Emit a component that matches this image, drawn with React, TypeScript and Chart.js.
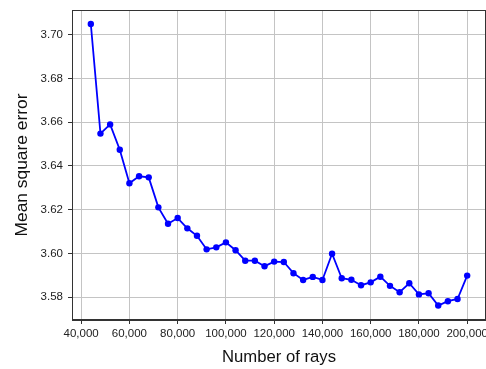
import React, { useEffect, useRef } from "react";
import { Chart, registerables } from "chart.js";

Chart.register(...registerables);

const rays = [
  44000, 48000, 52000, 56000, 60000, 64000, 68000, 72000, 76000, 80000,
  84000, 88000, 92000, 96000, 100000, 104000, 108000, 112000, 116000, 120000,
  124000, 128000, 132000, 136000, 140000, 144000, 148000, 152000, 156000, 160000,
  164000, 168000, 172000, 176000, 180000, 184000, 188000, 192000, 196000, 200000,
];
const mse = [
  3.7049, 3.6548, 3.659, 3.6474, 3.6321, 3.6353, 3.6348, 3.6211, 3.6136, 3.6162,
  3.6115, 3.6081, 3.6019, 3.6028, 3.6051, 3.6015, 3.5967, 3.5967, 3.5942, 3.5963,
  3.5961, 3.591, 3.5879, 3.5893, 3.5879, 3.5999, 3.5887, 3.588, 3.5855, 3.5868,
  3.5894, 3.5852, 3.5823, 3.5864, 3.5813, 3.5818, 3.5762, 3.5782, 3.5792, 3.5899,
];
const xTicks = [40000, 60000, 80000, 100000, 120000, 140000, 160000, 180000, 200000];
const yTicks = [3.58, 3.6, 3.62, 3.64, 3.66, 3.68, 3.7];

const frame = {
  id: "frame",
  afterDraw(chart: any) {
    const { ctx, chartArea: a } = chart;
    ctx.save();
    ctx.strokeStyle = "#333";
    ctx.lineWidth = 1;
    ctx.strokeRect(a.left + 0.5, a.top + 0.5, a.right - a.left - 1, a.bottom - a.top - 1);
    ctx.restore();
  },
};

export default function App() {
  const ref = useRef<HTMLCanvasElement>(null);
  useEffect(() => {
    if (!ref.current) return;
    const tickFont = { family: "'Liberation Sans', Arial, sans-serif", size: 11.5 };
    const xTitleFont = { family: "'Liberation Sans', Arial, sans-serif", size: 16.7 };
    const yTitleFont = { family: "'Liberation Sans', Arial, sans-serif", size: 17.4 };
    const chart = new Chart(ref.current, {
      type: "line",
      data: {
        datasets: [
          {
            data: rays.map((x, i) => ({ x, y: mse[i] })),
            borderColor: "#0000ff",
            backgroundColor: "#0000ff",
            borderWidth: 1.8,
            pointRadius: 3.2,
            pointBorderWidth: 0,
            pointBackgroundColor: "#0000ff",
            tension: 0,
            clip: false,
          },
        ],
      },
      plugins: [frame],
      options: {
        animation: false,
        responsive: false,
        maintainAspectRatio: false,
        layout: { autoPadding: false, padding: { left: 0, right: 0, top: 10, bottom: 0 } },
        plugins: { legend: { display: false }, tooltip: { enabled: false } },
        scales: {
          x: {
            type: "linear",
            min: 36200,
            max: 207800,
            afterBuildTicks: (axis: any) => {
              axis.ticks = xTicks.map((v) => ({ value: v }));
            },
            afterFit: (axis: any) => {
              axis.height = 49;
              axis.paddingLeft = 0;
              axis.paddingRight = 0;
            },
            grid: { color: "#c4c4c4", lineWidth: 1, tickLength: 4, tickColor: "#333" },
            border: { color: "#333", width: 1 },
            ticks: {
              autoSkip: false,
              maxRotation: 0,
              minRotation: 0,
              padding: 3,
              color: "#222",
              font: tickFont,
              callback: (v: any) => Number(v).toLocaleString("en-US"),
            },
            title: {
              display: true,
              text: "Number of rays",
              color: "#111",
              font: xTitleFont,
              padding: { top: 0, bottom: 2 },
            },
          },
          y: {
            type: "linear",
            min: 3.5696,
            max: 3.7113,
            afterBuildTicks: (axis: any) => {
              axis.ticks = yTicks.map((v) => ({ value: v }));
            },
            afterFit: (axis: any) => {
              axis.width = 72;
              axis.paddingTop = 0;
              axis.paddingBottom = 0;
            },
            grid: { color: "#c4c4c4", lineWidth: 1, tickLength: 4, tickColor: "#333" },
            border: { color: "#333", width: 1 },
            ticks: {
              padding: 5,
              color: "#222",
              font: tickFont,
              callback: (v: any) => Number(v).toFixed(2),
            },
            title: {
              display: true,
              text: "Mean square error",
              color: "#111",
              font: yTitleFont,
              padding: { top: 12, bottom: 0 },
            },
          },
        },
      },
    });
    return () => chart.destroy();
  }, []);
  return (
    <div style={{ position: "fixed", left: 0, top: 0, width: 486, height: 369, background: "#fff" }}>
      <canvas ref={ref} width={486} height={369} style={{ width: 486, height: 369 }} />
    </div>
  );
}
